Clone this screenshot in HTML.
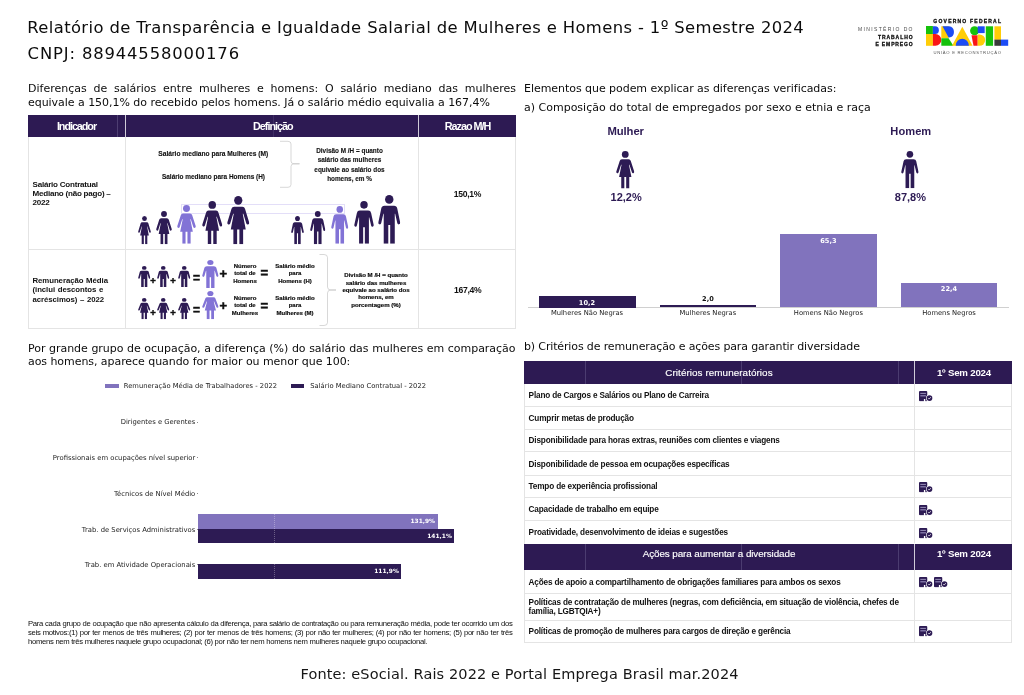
<!DOCTYPE html>
<html lang="pt-BR">
<head>
<meta charset="utf-8">
<title>Relatório de Transparência e Igualdade Salarial</title>
<style>
html,body{margin:0;padding:0;background:#fff;}
body>*{will-change:opacity;}
body{width:1024px;height:695px;position:relative;overflow:hidden;font-family:"DejaVu Sans","Liberation Sans",sans-serif;color:#1a1a1a;}
.a{position:absolute;white-space:nowrap;}
.dj{font-family:"DejaVu Sans","Liberation Sans",sans-serif;}
.ar{font-family:"Liberation Sans","DejaVu Sans",sans-serif;}
.b{font-weight:bold;}
.c{text-align:center;}
.r{text-align:right;}
.w{color:#fff;}
.pp{color:#2d1b54;}
.h1{font-size:16.4px;line-height:26px;left:28px;color:#0c0c0c;}
.p{font-size:11px;line-height:13px;color:#0c0c0c;}
.just{white-space:normal;text-align:justify;text-align-last:justify;}
.hd{background:#2d1a53;}
.ln{background:#e4e4e4;}
.t6{font-size:6.3px;line-height:9px;color:#111;-webkit-text-stroke:0.12px #111;}
.t5{font-size:6px;line-height:7.25px;color:#111;-webkit-text-stroke:0.2px #111;}
.row{font-size:8.2px;line-height:9px;color:#111;left:528.6px;letter-spacing:-0.16px;margin-top:-0.2px;}
.ic{position:absolute;width:14px;height:10.4px;}
svg{position:absolute;overflow:visible;}
.dk{fill:#2d1b54;}
.lt{fill:#8273d6;}
</style>
</head>
<body>
<svg width="0" height="0" style="position:absolute">
<defs>
<symbol id="wm" viewBox="0 0 120 244" preserveAspectRatio="none">
<circle cx="60" cy="22" r="22"/>
<path d="M38,54 H82 Q93,54 96,65 L118,133 Q120,142 113,144 Q106,146 103,139 L87,90 H84 L100,169 H86 V244 H66 V169 H54 V244 H34 V169 H20 L36,90 H33 L17,139 Q14,146 7,144 Q0,142 2,133 L24,65 Q27,54 38,54 Z"/>
</symbol>
<symbol id="mn" viewBox="0 0 118 244" preserveAspectRatio="none">
<circle cx="59" cy="22" r="22"/>
<path d="M34,54 H84 Q98,54 101,68 L116,136 Q118,145 110,147 Q103,148 101,140 L90,94 H88 V244 H64 V150 H54 V244 H30 V94 H28 L17,140 Q15,148 8,147 Q0,145 2,136 L17,68 Q20,54 34,54 Z"/>
</symbol>
<symbol id="bc" viewBox="0 0 14 10.4">
<path fill="#2d1b54" d="M1,0 H7.25 Q8.25,0 8.25,1 V4.6 Q7.2,5.9 7.5,8 L7.9,10.3 H6.3 V8.1 H4.9 V10.3 H1 Q0,10.3 0,9.3 V1 Q0,0 1,0 Z"/>
<rect x="1.3" y="1.9" width="5.6" height="0.9" fill="#a79fc6"/>
<rect x="1.3" y="4.2" width="5.6" height="1.2" fill="#8f86b5"/>
<circle cx="10.5" cy="7.05" r="3.3" fill="#fff"/>
<circle cx="10.5" cy="7.05" r="2.85" fill="#2d1b54"/>
<path d="M9.3,7.2 L10.15,8.05 L11.8,6.2" fill="none" stroke="#fff" stroke-width="0.75"/>
</symbol>
</defs>
</svg>

<!-- ===== HEADER ===== -->
<div class="a h1" style="top:14.7px;left:27.3px;letter-spacing:0.378px;">Relatório de Transparência e Igualdade Salarial de Mulheres e Homens - 1º Semestre 2024</div>
<div class="a h1" style="top:40.8px;left:27.6px;letter-spacing:0.86px;">CNPJ: 88944558000176</div>

<!-- ===== LEFT TOP PARAGRAPH ===== -->
<div class="a p just" style="left:28px;top:81.8px;width:488px;height:13px;overflow:hidden;">Diferenças de salários entre mulheres e homens: O salário mediano das mulheres</div>
<div class="a p" style="left:28px;top:95.5px;letter-spacing:-0.04px;">equivale a 150,1% do recebido pelos homens. Já o salário médio equivalia a 167,4%</div>

<!-- ===== RIGHT TOP HEADINGS ===== -->
<div class="a p" style="left:524px;top:81.6px;letter-spacing:-0.045px;">Elementos que podem explicar as diferenças verificadas:</div>
<div class="a p" style="left:524px;top:101.2px;">a) Composição do total de empregados por sexo e etnia e raça</div>

<!-- ===== TABLE 1 ===== -->
<div class="a" style="left:28px;top:114.5px;width:488px;height:214.5px;border:1px solid #e4e4e4;box-sizing:border-box;"></div>
<div class="a hd" style="left:28px;top:114.5px;width:488px;height:22.5px;"></div>
<div class="a" style="left:117px;top:114.5px;width:1px;height:22.5px;background:#4e3e72;"></div>
<div class="a" style="left:125px;top:114.5px;width:1px;height:22.5px;background:#cfcbd8;"></div>
<div class="a" style="left:418px;top:114.5px;width:1px;height:22.5px;background:#cfcbd8;"></div>
<div class="a" style="left:273px;top:114.5px;width:1px;height:22.5px;background:#3e2d64;"></div>
<div class="a ln" style="left:125px;top:137px;width:1px;height:192px;"></div>
<div class="a ln" style="left:418px;top:137px;width:1px;height:192px;"></div>
<div class="a ln" style="left:28px;top:249px;width:488px;height:1px;"></div>
<div class="a ar b w c" style="left:28px;top:119px;width:97px;font-size:10.8px;line-height:14px;letter-spacing:-1.05px;">Indicador</div>
<div class="a ar b w c" style="left:126.8px;top:119px;width:292px;font-size:10.8px;line-height:14px;letter-spacing:-1.0px;">Definição</div>
<div class="a ar b w c" style="left:419.6px;top:119px;width:96px;font-size:10.8px;line-height:14px;letter-spacing:-1.0px;">Razao M/H</div>
<div class="a ar b" style="left:32.5px;top:179.6px;font-size:8.05px;line-height:9.25px;letter-spacing:-0.23px;color:#111;">Salário Contratual<br>Mediano (não pago) –<br>2022</div>
<div class="a ar b" style="left:32.5px;top:276px;font-size:7.8px;line-height:9.3px;letter-spacing:-0.06px;word-spacing:0.6px;color:#111;">Remuneração Média<br>(inclui descontos e<br>acréscimos) – 2022</div>
<div class="a ar b c" style="left:419.4px;top:188.5px;width:96px;font-size:8.6px;line-height:10px;letter-spacing:-0.3px;color:#111;">150,1%</div>
<div class="a ar b c" style="left:419.7px;top:284.8px;width:96px;font-size:8.6px;line-height:10px;letter-spacing:-0.3px;color:#111;">167,4%</div>
<!-- row 1 definition -->
<div class="a ar b c t6" style="left:153px;top:149px;width:120.6px;font-size:6.65px;">Salário mediano para Mulheres (M)</div>
<div class="a ar b c t6" style="left:153px;top:172.3px;width:121px;font-size:6.45px;">Salário mediano para Homens (H)</div>
<svg style="left:279px;top:140px" width="22" height="48" viewBox="0 0 22 48"><path d="M1,1.3 H9 Q12,1.3 12,4 V21 Q12,23.8 15,23.8 H20.5 H15 Q12,23.8 12,26.5 V44.5 Q12,47.3 9,47.3 H1" fill="none" stroke="#bdbdbd" stroke-width="0.6"/></svg>
<div class="a ar b c t6" style="left:299.5px;top:146.4px;width:100px;font-size:6.4px;line-height:9.1px;color:#151515;">Divisão M /H = quanto<br>salário das mulheres<br>equivale ao salário dos<br>homens, em %</div>
<div class="a" style="left:181.2px;top:204.2px;width:163.4px;height:10.3px;border:0.6px solid #e3def8;box-sizing:border-box;"></div>
<svg class="dk" style="left:137.50px;top:215.5px" width="13" height="28.25" preserveAspectRatio="none"><use href="#wm" width="13" height="28.25" preserveAspectRatio="none"/></svg>
<svg class="dk" style="left:156.00px;top:210.5px" width="16" height="33.25" preserveAspectRatio="none"><use href="#wm" width="16" height="33.25" preserveAspectRatio="none"/></svg>
<svg class="lt" style="left:177.25px;top:205px" width="19" height="38.75" preserveAspectRatio="none"><use href="#wm" width="19" height="38.75" preserveAspectRatio="none"/></svg>
<svg class="dk" style="left:201.50px;top:200.75px" width="20.5" height="43.00" preserveAspectRatio="none"><use href="#wm" width="20.5" height="43.00" preserveAspectRatio="none"/></svg>
<svg class="dk" style="left:226.75px;top:195.5px" width="22.5" height="48.25" preserveAspectRatio="none"><use href="#wm" width="22.5" height="48.25" preserveAspectRatio="none"/></svg>
<svg class="dk" style="left:291.00px;top:215.5px" width="13" height="28.25"><use href="#mn" width="13" height="28.25"/></svg>
<svg class="dk" style="left:309.75px;top:210.5px" width="15.5" height="33.25"><use href="#mn" width="15.5" height="33.25"/></svg>
<svg class="lt" style="left:331.25px;top:206px" width="17.5" height="37.75"><use href="#mn" width="17.5" height="37.75"/></svg>
<svg class="dk" style="left:354.00px;top:201px" width="20" height="42.75"><use href="#mn" width="20" height="42.75"/></svg>
<svg class="dk" style="left:378.25px;top:195px" width="22.5" height="48.75"><use href="#mn" width="22.5" height="48.75"/></svg>

<!-- row 2 definition -->
<svg class="dk" style="left:137.50px;top:265.75px" width="12.5" height="21.00"><use href="#mn" width="12.5" height="21.00"/></svg>
<svg class="dk" style="left:137.50px;top:297.5px" width="12.5" height="21.25"><use href="#wm" width="12.5" height="21.25"/></svg>
<svg class="dk" style="left:157.00px;top:265.75px" width="12.5" height="21.00"><use href="#mn" width="12.5" height="21.00"/></svg>
<svg class="dk" style="left:157.00px;top:297.5px" width="12.5" height="21.25"><use href="#wm" width="12.5" height="21.25"/></svg>
<svg class="dk" style="left:177.50px;top:265.75px" width="12.5" height="21.00"><use href="#mn" width="12.5" height="21.00"/></svg>
<svg class="dk" style="left:177.50px;top:297.5px" width="12.5" height="21.25"><use href="#wm" width="12.5" height="21.25"/></svg>
<svg class="lt" style="left:202.12px;top:259.5px" width="16.75" height="28.00"><use href="#mn" width="16.75" height="28.00"/></svg>
<svg class="lt" style="left:201.93px;top:291.25px" width="16.75" height="28.25"><use href="#wm" width="16.75" height="28.25"/></svg>

<div class="a ar b" style="left:150.2px;top:274.5px;font-size:9.5px;line-height:11px;color:#111;-webkit-text-stroke:0.45px #111;">+</div>
<div class="a ar b" style="left:170.2px;top:274.5px;font-size:9.5px;line-height:11px;color:#111;-webkit-text-stroke:0.45px #111;">+</div>
<div class="a ar b" style="left:150.2px;top:306.5px;font-size:9.5px;line-height:11px;color:#111;-webkit-text-stroke:0.45px #111;">+</div>
<div class="a ar b" style="left:170.2px;top:306.5px;font-size:9.5px;line-height:11px;color:#111;-webkit-text-stroke:0.45px #111;">+</div>
<div class="a ar b" style="left:193px;top:271.5px;font-size:12px;line-height:13px;color:#111;-webkit-text-stroke:0.5px #111;">=</div>
<div class="a ar b" style="left:193px;top:303.5px;font-size:12px;line-height:13px;color:#111;-webkit-text-stroke:0.5px #111;">=</div>
<div class="a ar b" style="left:219.5px;top:266.5px;font-size:13px;line-height:13px;color:#111;-webkit-text-stroke:0.5px #111;">+</div>
<div class="a ar b" style="left:219.5px;top:298.7px;font-size:13px;line-height:13px;color:#111;-webkit-text-stroke:0.5px #111;">+</div>
<div class="a ar b c t5" style="left:225px;top:263.2px;width:40px;">Número<br>total de<br>Homens</div>
<div class="a ar b c t5" style="left:225px;top:295.2px;width:40px;">Número<br>total de<br>Mulheres</div>
<div class="a ar b" style="left:260.5px;top:266.3px;font-size:13px;line-height:13px;color:#111;-webkit-text-stroke:0.55px #111;">=</div>
<div class="a ar b" style="left:260.5px;top:298.5px;font-size:13px;line-height:13px;color:#111;-webkit-text-stroke:0.55px #111;">=</div>
<div class="a ar b c t5" style="left:270px;top:263px;width:50px;">Salário médio<br>para<br>Homens (H)</div>
<div class="a ar b c t5" style="left:270px;top:295px;width:50px;">Salário médio<br>para<br>Mulheres (M)</div>
<svg style="left:318.5px;top:253.5px" width="18" height="72" viewBox="0 0 18 72"><path d="M0.5,0.5 H5 Q8.5,0.5 8.5,3.5 V33 Q8.5,36 12,36 H17 H12 Q8.5,36 8.5,39 V68.5 Q8.5,71.5 5,71.5 H0.5" fill="none" stroke="#bdbdbd" stroke-width="0.6"/></svg>
<div class="a ar b c" style="left:336px;top:271.2px;width:80px;font-size:6.1px;line-height:7.4px;color:#0a0a0a;-webkit-text-stroke:0.18px #111;">Divisão M /H = quanto<br>salário das mulheres<br>equivale ao salário dos<br>homens, em<br>porcentagem (%)</div>

<!-- ===== CHART 1 ===== -->
<div class="a ar b pp c" style="left:575.7px;top:124px;width:100px;font-size:11.3px;line-height:14px;letter-spacing:-0.1px;">Mulher</div>
<div class="a ar b pp c" style="left:860.8px;top:123.6px;width:100px;font-size:11.1px;line-height:14px;letter-spacing:0.05px;">Homem</div>
<svg class="dk" style="left:615.75px;top:150.75px" width="18.5" height="37.5"><use href="#wm" width="18.5" height="37.5"/></svg>
<svg class="dk" style="left:900.6px;top:151.25px" width="17.8" height="37.2"><use href="#mn" width="17.8" height="37.2"/></svg>
<div class="a ar b pp c" style="left:576.2px;top:190.3px;width:100px;font-size:11px;line-height:14px;">12,2%</div>
<div class="a ar b pp c" style="left:860.4px;top:190.3px;width:100px;font-size:11px;line-height:14px;">87,8%</div>
<div class="a" style="left:527.5px;top:307px;width:481px;height:1px;background:#d0d0d0;"></div>
<div class="a" style="left:538.5px;top:296px;width:97px;height:11.5px;background:#2d1b54;"></div>
<div class="a" style="left:659.6px;top:305.2px;width:96.6px;height:2.3px;background:#2d1b54;"></div>
<div class="a" style="left:780px;top:234.4px;width:96.8px;height:73.1px;background:#8173bd;"></div>
<div class="a" style="left:900.8px;top:282.6px;width:96.4px;height:24.9px;background:#8173bd;"></div>
<div class="a dj b w c" style="left:538.5px;top:298.7px;width:97px;font-size:6.6px;line-height:9px;">10,2</div>
<div class="a dj b c" style="left:659.6px;top:294.9px;width:96.6px;font-size:6.6px;line-height:9px;color:#111;">2,0</div>
<div class="a dj b w c" style="left:780px;top:237.2px;width:96.8px;font-size:6.6px;line-height:9px;">65,3</div>
<div class="a dj b w c" style="left:900.8px;top:284.9px;width:96.4px;font-size:6.6px;line-height:9px;">22,4</div>
<div class="a dj c" style="left:538.5px;top:309.3px;width:97px;font-size:6.75px;line-height:9px;color:#222;">Mulheres Não Negras</div>
<div class="a dj c" style="left:659.6px;top:309.3px;width:96.6px;font-size:6.75px;line-height:9px;color:#222;">Mulheres Negras</div>
<div class="a dj c" style="left:780px;top:309.3px;width:96.8px;font-size:6.75px;line-height:9px;color:#222;">Homens Não Negros</div>
<div class="a dj c" style="left:900.8px;top:309.3px;width:96.4px;font-size:6.75px;line-height:9px;color:#222;">Homens Negros</div>

<!-- ===== PARAGRAPH 2 ===== -->
<div class="a p just" style="left:28px;top:341.5px;width:487.5px;height:14px;overflow:hidden;font-size:11px;line-height:14px;letter-spacing:-0.03px;">Por grande grupo de ocupação, a diferença (%) do salário das mulheres em comparação</div>
<div class="a p" style="left:28px;top:355px;font-size:11px;line-height:14px;letter-spacing:-0.06px;">aos homens, aparece quando for maior ou menor que 100:</div>
<div class="a p" style="left:524px;top:340.3px;letter-spacing:-0.14px;">b) Critérios de remuneração e ações para garantir diversidade</div>

<!-- ===== CHART 2 ===== -->
<div class="a" style="left:105px;top:383.9px;width:13.8px;height:4.2px;background:#8173bd;"></div>
<div class="a dj" style="left:123.8px;top:382px;font-size:6.75px;line-height:9px;color:#222;">Remuneração Média de Trabalhadores - 2022</div>
<div class="a" style="left:290.5px;top:383.9px;width:13.8px;height:4.2px;background:#2d1b54;"></div>
<div class="a dj" style="left:310.3px;top:382px;font-size:6.75px;line-height:9px;color:#222;">Salário Mediano Contratual - 2022</div>
<div class="a dj r" style="left:0px;top:418.3px;width:195.3px;font-size:6.82px;line-height:9px;color:#222;">Dirigentes e Gerentes</div>
<div class="a" style="left:196.5px;top:421.7px;width:1.6px;height:0.6px;background:#8a8a8a;"></div>
<div class="a dj r" style="left:0px;top:454.3px;width:195.3px;font-size:6.82px;line-height:9px;color:#222;">Profissionais em ocupações nível superior</div>
<div class="a" style="left:196.5px;top:457.0px;width:1.6px;height:0.6px;background:#8a8a8a;"></div>
<div class="a dj r" style="left:0px;top:490.2px;width:195.3px;font-size:6.82px;line-height:9px;color:#222;">Técnicos de Nível Médio</div>
<div class="a" style="left:196.5px;top:492.9px;width:1.6px;height:0.6px;background:#8a8a8a;"></div>
<div class="a dj r" style="left:0px;top:525.8px;width:195.3px;font-size:6.82px;line-height:9px;color:#222;">Trab. de Serviços Administrativos</div>
<div class="a" style="left:196.5px;top:528.5px;width:1.6px;height:0.6px;background:#8a8a8a;"></div>
<div class="a dj r" style="left:0px;top:561.3px;width:195.3px;font-size:6.82px;line-height:9px;color:#222;">Trab. em Atividade Operacionais</div>
<div class="a" style="left:196.5px;top:564.0px;width:1.6px;height:0.6px;background:#8a8a8a;"></div>
<div class="a" style="left:198.2px;top:514.4px;width:239.6px;height:14.4px;background:#8173bd;"></div>
<div class="a" style="left:198.2px;top:528.8px;width:256.3px;height:14.3px;background:#2d1b54;"></div>
<div class="a" style="left:198.2px;top:564.3px;width:203.3px;height:14.3px;background:#2d1b54;"></div>
<div class="a" style="left:273.5px;top:514.4px;width:0;height:64.2px;border-left:0.6px dotted rgba(255,255,255,0.3);"></div>
<div class="a dj b w r" style="left:335px;top:517.2px;width:100px;font-size:5.9px;line-height:9px;">131,9%</div>
<div class="a dj b w r" style="left:351.8px;top:531.5px;width:100px;font-size:5.9px;line-height:9px;">141,1%</div>
<div class="a dj b w r" style="left:298.8px;top:567px;width:100px;font-size:5.9px;line-height:9px;">111,9%</div>
<div class="a ar just" style="left:28px;top:618.8px;width:484.5px;height:9.2px;overflow:hidden;font-size:7.7px;line-height:9.2px;letter-spacing:-0.30px;color:#0d0d0d;">Para cada grupo de ocupação que não apresenta cálculo da diferença, para salário de contratação ou para remuneração média, pode ter ocorrido um dos</div>
<div class="a ar just" style="left:28px;top:628px;width:484.5px;height:9.2px;overflow:hidden;font-size:7.7px;line-height:9.2px;letter-spacing:-0.30px;color:#0d0d0d;">seis motivos:(1) por ter menos de três mulheres; (2) por ter menos de três homens; (3) por não ter mulheres; (4) por não ter homens; (5) por não ter três</div>
<div class="a ar" style="left:28px;top:637.2px;font-size:7.7px;line-height:9.2px;letter-spacing:-0.30px;color:#0d0d0d;">homens nem três mulheres naquele grupo ocupacional; (6) por não ter nem homens nem mulheres naquele grupo ocupacional.</div>

<!-- ===== TABLE 2 ===== -->
<div class="a" style="left:524px;top:361px;width:487.5px;height:281.7px;border:1px solid #e4e4e4;box-sizing:border-box;"></div>
<div class="a hd" style="left:524px;top:361px;width:487.5px;height:22.6px;"></div>
<div class="a hd" style="left:524px;top:543.7px;width:487.5px;height:26.3px;"></div>
<div class="a ln" style="left:914px;top:383.7px;width:1px;height:159.5px;"></div>
<div class="a ln" style="left:914px;top:570px;width:1px;height:72.7px;"></div>
<div class="a" style="left:914px;top:361px;width:1px;height:22.6px;background:#cfcbd8;"></div>
<div class="a" style="left:914px;top:543.7px;width:1px;height:26.3px;background:#cfcbd8;"></div>
<div class="a" style="left:585px;top:361px;width:0.8px;height:22.6px;background:#4b3c70;"></div>
<div class="a" style="left:585px;top:543.7px;width:0.8px;height:26.3px;background:#4b3c70;"></div>
<div class="a" style="left:741px;top:361px;width:0.8px;height:22.6px;background:#4b3c70;"></div>
<div class="a" style="left:741px;top:543.7px;width:0.8px;height:26.3px;background:#4b3c70;"></div>
<div class="a" style="left:897.7px;top:361px;width:0.8px;height:22.6px;background:#4b3c70;"></div>
<div class="a" style="left:897.7px;top:543.7px;width:0.8px;height:26.3px;background:#4b3c70;"></div>
<div class="a ln" style="left:524px;top:406px;width:487.5px;height:1px;"></div>
<div class="a ln" style="left:524px;top:429px;width:487.5px;height:1px;"></div>
<div class="a ln" style="left:524px;top:451px;width:487.5px;height:1px;"></div>
<div class="a ln" style="left:524px;top:475px;width:487.5px;height:1px;"></div>
<div class="a ln" style="left:524px;top:497px;width:487.5px;height:1px;"></div>
<div class="a ln" style="left:524px;top:520px;width:487.5px;height:1px;"></div>
<div class="a ln" style="left:524px;top:593px;width:487.5px;height:1px;"></div>
<div class="a ln" style="left:524px;top:620px;width:487.5px;height:1px;"></div>
<div class="a ar w c" style="left:524px;top:366.2px;width:390px;font-size:9.9px;line-height:13px;letter-spacing:0.06px;-webkit-text-stroke:0.15px #fff;">Critérios remuneratórios</div>
<div class="a ar b w c" style="left:915.2px;top:366.4px;width:97.5px;font-size:9.7px;line-height:13px;letter-spacing:-0.2px;">1º Sem 2024</div>
<div class="a ar w c" style="left:524px;top:546.6px;width:390px;font-size:9.9px;line-height:13px;letter-spacing:-0.1px;-webkit-text-stroke:0.15px #fff;">Ações para aumentar a diversidade</div>
<div class="a ar b w c" style="left:915.2px;top:546.7px;width:97.5px;font-size:9.7px;line-height:13px;letter-spacing:-0.2px;">1º Sem 2024</div>
<div class="a ar b row" style="top:391.1px;">Plano de Cargos e Salários ou Plano de Carreira</div>
<svg class="ic" style="left:918.75px;top:390.8px" width="14" height="10.4"><use href="#bc" width="14" height="10.4"/></svg>
<div class="a ar b row" style="top:413.7px;">Cumprir metas de produção</div>
<div class="a ar b row" style="top:436.5px;">Disponibilidade para horas extras, reuniões com clientes e viagens</div>
<div class="a ar b row" style="top:459.7px;">Disponibilidade de pessoa em ocupações específicas</div>
<div class="a ar b row" style="top:482.3px;">Tempo de experiência profissional</div>
<svg class="ic" style="left:918.75px;top:482.0px" width="14" height="10.4"><use href="#bc" width="14" height="10.4"/></svg>
<div class="a ar b row" style="top:505.4px;">Capacidade de trabalho em equipe</div>
<svg class="ic" style="left:918.75px;top:505.1px" width="14" height="10.4"><use href="#bc" width="14" height="10.4"/></svg>
<div class="a ar b row" style="top:527.8px;">Proatividade, desenvolvimento de ideias e sugestões</div>
<svg class="ic" style="left:918.75px;top:527.5px" width="14" height="10.4"><use href="#bc" width="14" height="10.4"/></svg>
<div class="a ar b row" style="top:578.1px;">Ações de apoio a compartilhamento de obrigações familiares para ambos os sexos</div>
<svg class="ic" style="left:918.75px;top:577.2px" width="14" height="10.4"><use href="#bc" width="14" height="10.4"/></svg>
<svg class="ic" style="left:934.35px;top:577.2px" width="14" height="10.4"><use href="#bc" width="14" height="10.4"/></svg>
<div class="a ar b row" style="top:598.2px;line-height:9.4px;">Políticas de contratação de mulheres (negras, com deficiência, em situação de violência, chefes de<br>família, LGBTQIA+)</div>
<div class="a ar b row" style="top:627.2px;">Políticas de promoção de mulheres para cargos de direção e gerência</div>
<svg class="ic" style="left:918.75px;top:626.4px" width="14" height="10.4"><use href="#bc" width="14" height="10.4"/></svg>

<!-- ===== FOOTER ===== -->
<div class="a" style="left:300.5px;top:664.1px;font-size:14.5px;line-height:20px;letter-spacing:0.12px;color:#161616;">Fonte: eSocial. Rais 2022 e Portal Emprega Brasil mar.2024</div>

<!-- ===== LOGO ===== -->
<div class="a ar r" style="left:800px;top:26.3px;width:113.9px;font-size:5px;line-height:6px;letter-spacing:1.38px;color:#4a4a4a;">MINISTÉRIO DO</div>
<div class="a ar b r" style="left:800px;top:34.3px;width:113.6px;font-size:5px;line-height:6px;letter-spacing:0.95px;color:#111;-webkit-text-stroke:0.3px #111;">TRABALHO</div>
<div class="a ar b r" style="left:800px;top:41.3px;width:113.6px;font-size:5px;line-height:6px;letter-spacing:0.88px;color:#111;-webkit-text-stroke:0.3px #111;">E EMPREGO</div>
<div class="a ar b c" style="left:917.8px;top:18.3px;width:100px;font-size:5px;line-height:6px;letter-spacing:1.22px;color:#111;-webkit-text-stroke:0.3px #111;">GOVERNO FEDERAL</div>
<div class="a ar c" style="left:917.6px;top:50.2px;width:100px;font-size:4.2px;line-height:6px;letter-spacing:0.72px;color:#555;">UNIÃO E RECONSTRUÇÃO</div>
<svg style="left:926.3px;top:26.2px" width="82.2" height="19.8" viewBox="0 0 82.2 19.8">
<rect x="0" y="0" width="6.9" height="8" fill="#16c10c"/>
<rect x="0" y="8" width="6.9" height="11.8" fill="#ffcd07"/>
<path d="M6.9,0.3 H9 A3.8,3.8 0 0 1 9,8 H6.9 Z" fill="#1c4cf5"/>
<path d="M6.9,8 H9.5 A5.8,5.9 0 0 1 9.5,19.8 H6.9 Z" fill="#fa1616"/>
<path d="M15.3,0.3 H22.6 V12.2 H15.3 Z" fill="#ffcd07"/>
<path d="M16.5,0.3 H23 A5.7,5.7 0 0 1 23,11.6 H22.6 Z" fill="#1c4cf5"/>
<path d="M15.3,12.2 H22.6 L27.4,19.8 H15.3 Z" fill="#16c10c"/>
<path d="M36.3,0.8 L46.6,19.8 H26 Z" fill="#ffcd07"/>
<path d="M29.7,19.8 A6.6,7 0 0 1 42.9,19.8 Z" fill="#1c4cf5"/>
<circle cx="48.6" cy="4.8" r="4.5" fill="#16c10c"/>
<rect x="51.7" y="0.3" width="7" height="6.8" fill="#1c4cf5"/>
<path d="M45.5,9.3 H51.7 V19.8 H47.5 Z" fill="#fa1616"/>
<path d="M51.7,8.4 H53.5 A5.7,5.7 0 0 1 53.5,19.8 H51.7 Z" fill="#ffcd07"/>
<rect x="59.8" y="0.3" width="7.3" height="19.5" fill="#16c10c"/>
<rect x="68.4" y="0.3" width="6.6" height="13.5" fill="#ffcd07"/>
<rect x="68.4" y="13.6" width="6.6" height="6.2" fill="#3a3a3a"/>
<rect x="75" y="13.6" width="7.2" height="6.2" fill="#1c4cf5"/>
</svg>

</body>
</html>
